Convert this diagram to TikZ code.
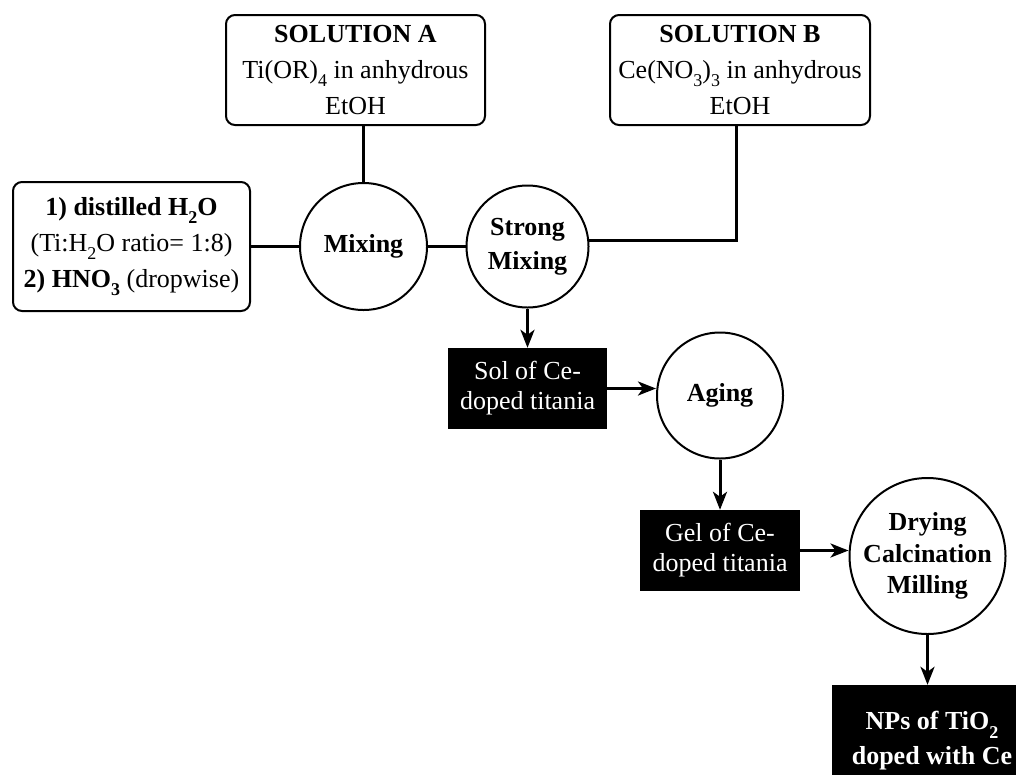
\documentclass[tikz,border=0pt]{standalone}
\usepackage{fontspec}
\setmainfont{Liberation Serif}
\usetikzlibrary{arrows.meta}
\newcommand\sbx[1]{\raisebox{-0.32em}{\fontsize{18}{18}\selectfont #1}}
\begin{document}
\begin{tikzpicture}[x=1pt,y=-1pt,
  every node/.style={font=\fontsize{26}{36}\selectfont, inner sep=0pt},
  rbox/.style={draw, line width=2pt, rounded corners=9pt, align=center},
  circ/.style={draw, circle, line width=2pt, align=center},
  dbox/.style={fill=black, text=white, align=center},
  conn/.style={line width=3pt},
  arr/.style={conn, -{Stealth[length=18pt,width=14pt,inset=5pt]}}]
\useasboundingbox (0,0) rectangle (1016,774);

\node[rbox, minimum width=237pt, minimum height=129pt] (W) at (131.5,246.5)
  {\textbf{1) distilled H\sbx{2}O}\\(Ti:H\sbx{2}O ratio= 1:8)\\\textbf{2) HNO\sbx{3}} (dropwise)};
\node[rbox, minimum width=259pt, minimum height=110pt] (A) at (355.5,70)
  {\textbf{SOLUTION A}\\Ti(OR)\sbx{4} in anhydrous\\EtOH};
\node[rbox, minimum width=260pt, minimum height=110pt] (B) at (740,70)
  {\textbf{SOLUTION B}\\Ce(NO\sbx{3})\sbx{3} in anhydrous\\EtOH};
\node[circ, minimum size=127pt, font=\fontsize{26}{34}\selectfont\bfseries] (Mix) at (363.5,246.5) {Mixing};
\node[circ, minimum size=122pt, font=\fontsize{26}{34}\selectfont\bfseries] (SM) at (527.5,246.5) {Strong\\Mixing};
\node[dbox, minimum width=159pt, minimum height=81pt, font=\fontsize{26}{30}\selectfont] (Sol) at (527.5,388.5) {Sol of Ce-\\doped titania};
\node[circ, minimum size=126pt, font=\fontsize{26}{34}\selectfont\bfseries] (Aging) at (720,395.5) {Aging};
\node[dbox, minimum width=160pt, minimum height=81pt, font=\fontsize{26}{30}\selectfont] (Gel) at (720,550.5) {Gel of Ce-\\doped titania};
\node[circ, minimum size=156pt, font=\fontsize{26}{31.5}\selectfont\bfseries] (Dry) at (927.5,556) {Drying\\Calcination\\Milling};
\node[dbox, minimum width=200pt, minimum height=112pt, font=\fontsize{26}{35}\selectfont\bfseries] (NPs) at (932,741) {NPs of TiO\sbx{2}\\doped with Ce};

\coordinate (bj) at (736,240);
\draw[conn] (W) -- (Mix);
\draw[conn] (Mix) -- (SM);
\draw[conn] (A.south -| Mix) -- (Mix.north);
\draw[conn] (B.south -| bj) |- (SM.6);
\draw[arr] (SM.south) -- (Sol.north);
\draw[arr] (Sol.east) -- (Sol.east -| Aging.west);
\draw[arr] (Aging.south) -- (Gel.north);
\draw[arr] (Gel.east) -- (Gel.east -| Dry.west);
\draw[arr] (Dry.south) -- (Dry.south |- NPs.north);
\end{tikzpicture}
\end{document}
